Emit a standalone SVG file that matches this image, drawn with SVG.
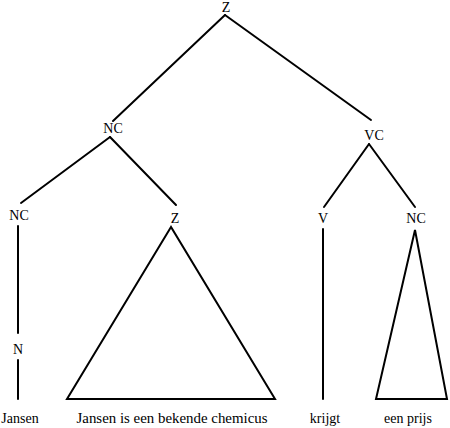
<svg xmlns="http://www.w3.org/2000/svg" width="450" height="428" viewBox="0 0 450 428" font-family="'Liberation Serif', 'DejaVu Serif', serif">
<style>
text{font-family:'Liberation Serif','DejaVu Serif',serif;fill:#000;text-anchor:middle}
.lab{font-size:14px}
.leaf{font-size:14px}
.e{stroke:#000;stroke-width:2;fill:none;stroke-linecap:round;stroke-linejoin:miter}
</style>
<g id="edges">
<line class="e" x1="225" y1="15" x2="113" y2="121"/>
<line class="e" x1="225" y1="15" x2="371" y2="120"/>
<line class="e" x1="110" y1="137" x2="21" y2="203"/>
<line class="e" x1="110" y1="137" x2="176" y2="205"/>
<line class="e" x1="369" y1="144" x2="324" y2="207"/>
<line class="e" x1="369" y1="144" x2="415" y2="207"/>
<line class="e" x1="18" y1="226" x2="18" y2="333"/>
<line class="e" x1="18" y1="360" x2="18" y2="399"/>
<line class="e" x1="323" y1="229" x2="323" y2="399"/>
</g>
<g id="n-z-root"><text class="lab" x="226" y="12">Z</text></g>
<g id="n-nc1"><text class="lab" x="113" y="133">NC</text></g>
<g id="n-vc"><text class="lab" x="374" y="140">VC</text></g>
<g id="n-nc2"><text class="lab" x="19" y="220">NC</text></g>
<g id="n-z2"><text class="lab" x="175" y="223">Z</text></g>
<g id="n-v"><text class="lab" x="323" y="223">V</text></g>
<g id="n-nc3"><text class="lab" x="416" y="223">NC</text></g>
<g id="n-n"><text class="lab" x="18" y="354">N</text></g>
<g id="n-tri1"><polygon class="e" points="171,227 67,399 275,399"/></g>
<g id="n-tri2"><polygon class="e" points="415,230 376,399 447,399"/></g>
<g id="n-jansen"><text class="leaf" x="20" y="423">Jansen</text></g>
<g id="n-sentence"><text class="leaf" x="172" y="423" textLength="191" lengthAdjust="spacingAndGlyphs">Jansen is een bekende chemicus</text></g>
<g id="n-krijgt"><text class="leaf" x="325" y="423">krijgt</text></g>
<g id="n-prijs"><text class="leaf" x="408" y="423">een prijs</text></g>
</svg>
